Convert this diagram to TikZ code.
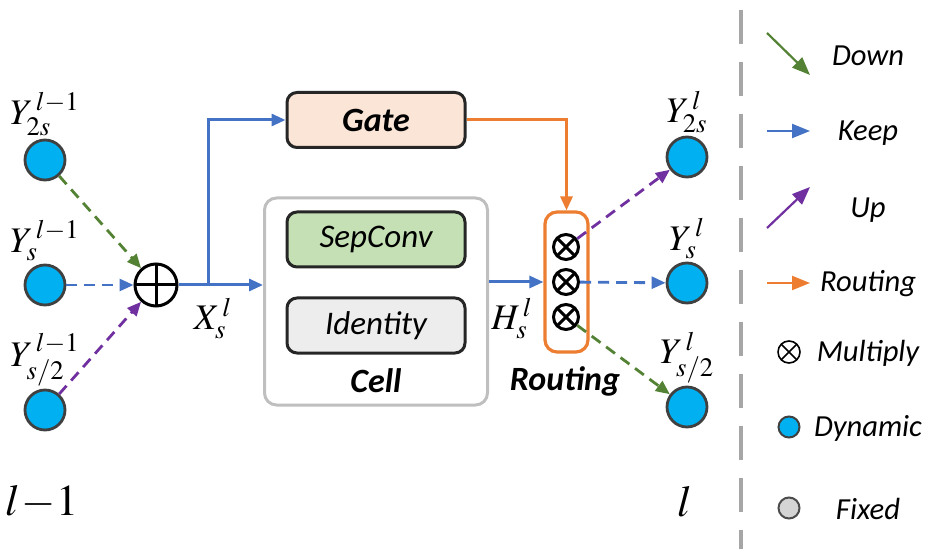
\documentclass[tikz,border=0pt]{standalone}
\usepackage{mathptmx}
\usepackage{fontspec}
\setmainfont{Carlito}
\usetikzlibrary{arrows.meta,positioning,calc}

\definecolor{keepblue}{HTML}{4472C4}
\definecolor{routeorange}{HTML}{ED7D31}
\definecolor{downgreen}{HTML}{548235}
\definecolor{uppurple}{HTML}{7030A0}
\definecolor{dynfill}{HTML}{00B0F0}
\definecolor{gatefill}{HTML}{FBE5D6}
\definecolor{convfill}{HTML}{C5E0B4}
\definecolor{idfill}{HTML}{EDEDED}

\tikzset{
  dyn/.style={circle, draw=black!75, line width=1.4pt, fill=dynfill, minimum size=20pt, inner sep=0pt},
  fixd/.style={circle, draw=black!70, line width=1pt, fill=black!17, minimum size=10.5pt, inner sep=0pt},
  ylabel/.style={font=\fontsize{18}{21}\selectfont, inner sep=0pt},
  opbox/.style={draw=black!85, line width=1.5pt, rounded corners=5pt, minimum width=89pt,
    minimum height=27.5pt, font=\fontsize{16.5}{19}\selectfont\itshape},
  caption/.style={font=\fontsize{17}{20}\selectfont\bfseries\itshape},
  legtext/.style={font=\fontsize{15.3}{18}\selectfont\itshape, anchor=center},
  mult/.style={circle, draw, line width=1.5pt, minimum size=12.5pt, inner sep=0pt,
    path picture={\draw[line width=1.5pt]
      (path picture bounding box.north west) -- (path picture bounding box.south east)
      (path picture bounding box.north east) -- (path picture bounding box.south west);}},
  addop/.style={circle, draw, line width=1.5pt, minimum size=21pt, inner sep=0pt,
    path picture={\draw[line width=1.5pt]
      (path picture bounding box.north) -- (path picture bounding box.south)
      (path picture bounding box.east) -- (path picture bounding box.west);}},
  flow/.style={line width=1.5pt, -{Triangle[length=7pt,width=6pt]}},
  dflow/.style={flow, line width=1.4pt, dash pattern=on 5.5pt off 3.5pt},
}

\begin{document}
\begin{tikzpicture}[x=0.5pt, y=-0.5pt, >={Triangle[length=7pt,width=6pt]}]
\useasboundingbox (0,0) rectangle (929,549);

% layer l-1
\node[dyn] (in2s) at (45,160) {};
\node[dyn] (ins) at (45,285) {};
\node[dyn] (inhalf) at (45,410) {};
\node[ylabel, above=1pt of in2s] (lin2s) {$Y_{2s}^{\,l-1}$};
\node[ylabel, above=1pt of ins] (lins) {$Y_{s}^{\,l-1}$};
\node[ylabel, above=1pt of inhalf] (linhalf) {$Y_{s/2}^{\,l-1}$};
\node[font=\fontsize{22}{25}\selectfont] (layerin) at (42,502) {$l\mkern-2mu-\mkern-2mu1$};

% sum and cell
\node[addop] (sum) at (156,285) {};
\coordinate (split) at (208,285);
\node[ylabel] (xs) at (213,318) {$X_{s}^{\,l}$};
\node[opbox, fill=gatefill, font=\fontsize{17}{20}\selectfont\bfseries\itshape] (gate) at (376,120) {Gate};
\node[draw=black!25, line width=1.5pt, rounded corners=6pt, minimum width=111.5pt, minimum height=103.5pt] (cell) at (376,301.5) {};
\node[opbox, fill=convfill] (sepconv) at (376,239.5) {SepConv};
\node[opbox, fill=idfill] (ident) at (376,325.5) {Identity};
\node[caption] (cellname) at (376,381) {Cell};

% routing
\node[draw=routeorange, line width=1.6pt, rounded corners=6pt, minimum width=21.5pt, minimum height=70pt] (route) at (566.5,282) {};
\node[mult] (m1) at (566,247) {};
\node[mult] (m2) at (566,282) {};
\node[mult] (m3) at (566,317) {};
\node[caption] (routename) at (565,381) {Routing};
\node[ylabel] (hs) at (512,318) {$H_{s}^{\,l}$};

% layer l
\node[dyn] (out2s) at (687,157) {};
\node[dyn] (outs) at (687,283) {};
\node[dyn] (outhalf) at (687,407) {};
\node[ylabel, above=1pt of out2s] (lout2s) {$Y_{2s}^{\,l}$};
\node[ylabel, above=1pt of outs] (louts) {$Y_{s}^{\,l}$};
\node[ylabel, above=1pt of outhalf] (louthalf) {$Y_{s/2}^{\,l}$};
\node[font=\fontsize{22}{25}\selectfont] (layerout) at (685,502) {$l$};

% connections
\draw[dflow, downgreen] (in2s) -- (sum);
\draw[dflow, keepblue] (ins) -- (sum);
\draw[dflow, uppurple] (inhalf) -- (sum);
\draw[flow, keepblue] (sum) -- (cell.west |- sum);
\draw[flow, keepblue] (split) |- (gate.west);
\draw[flow, keepblue] (cell.east |- route.west) -- (route.west);
\draw[flow, routeorange] (gate.east) -| (route.north);
\draw[dflow, uppurple] (m1) -- (out2s);
\draw[dflow, keepblue] (m2) -- (outs);
\draw[dflow, downgreen] (m3) -- (outhalf);

% legend
\draw[black!35, line width=2pt, dash pattern=on 17pt off 9pt] (741,10) -- (741,549);
\draw[downgreen, line width=1.1pt, -{Triangle[length=9pt,width=7pt]}] (767,33) -- (810,75);
\node[legtext] (ldown) at (868,56) {Down};
\draw[keepblue, line width=1.1pt, -{Triangle[length=9pt,width=7pt]}] (767,131) -- (810,131);
\node[legtext] (lkeep) at (868,133) {Keep};
\draw[uppurple, line width=1.1pt, -{Triangle[length=9pt,width=7pt]}] (767,228) -- (810,187);
\node[legtext] (lup) at (868,210) {Up};
\draw[routeorange, line width=1.1pt, -{Triangle[length=9pt,width=7pt]}] (767,283) -- (810,283);
\node[legtext] (lroute) at (868,284) {Routing};
\node[mult, line width=0.8pt, minimum size=11pt,
  path picture={\draw[line width=0.8pt]
    (path picture bounding box.north west) -- (path picture bounding box.south east)
    (path picture bounding box.north east) -- (path picture bounding box.south west);}] (lmult) at (789,352) {};
\node[legtext] (lmulttext) at (868,353) {Multiply};
\node[dyn, line width=1pt, minimum size=10.5pt] (ldyn) at (789,427) {};
\node[legtext] (ldyntext) at (868,428) {Dynamic};
\node[fixd] (lfix) at (789,508) {};
\node[legtext] (lfixtext) at (868,509) {Fixed};
\end{tikzpicture}
\end{document}
